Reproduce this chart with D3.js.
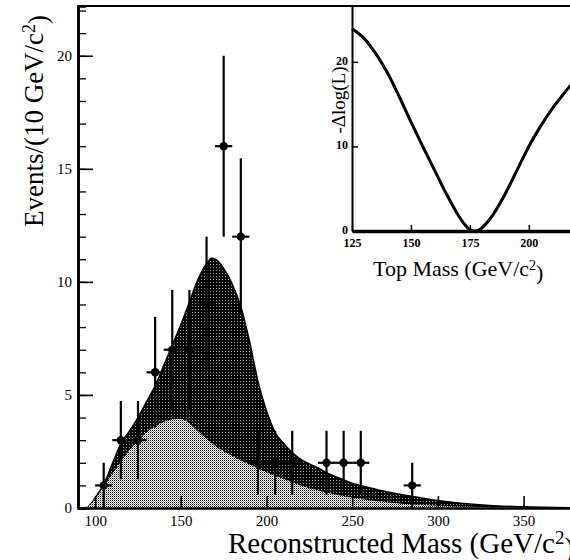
<!DOCTYPE html>
<html>
<head>
<meta charset="utf-8">
<script src="https://cdn.jsdelivr.net/npm/d3@7"></script>
<style>
  body { margin: 0; background: #fff; }
  svg { display: block; font-family: "Liberation Serif", "Times New Roman", serif; }
</style>
</head>
<body>
<svg id="plot" width="570" height="560"></svg>
<script>
// binned data (events per 10 GeV bin)
const binCenters = [105, 115, 125, 135, 145, 155, 165, 175, 185, 195, 205, 215, 235, 245, 255, 285];
const binCounts = [1, 3, 3, 6, 7, 7, 9, 16, 12, 2, 2, 2, 2, 2, 2, 1];

// expected total (signal + background)
const totalMass = [90, 95, 97, 100, 105, 110, 115, 120, 125, 130, 135, 140, 145, 150, 155, 160, 165, 168, 170, 175, 180, 185, 190, 195, 200, 205, 210, 215, 220, 225, 230, 235, 240, 250, 260, 270, 280, 290, 300, 315, 330, 350, 380];
const totalEvents = [0, 0.02, 0.13, 0.45, 1.05, 1.95, 2.85, 3.4, 4.0, 4.7, 5.4, 6.3, 7.2, 8.1, 9.1, 10.1, 10.8, 11.05, 11.0, 10.6, 9.9, 8.9, 7.4, 5.6, 4.3, 3.35, 2.85, 2.45, 2.15, 1.95, 1.78, 1.55, 1.4, 1.1, 0.9, 0.72, 0.58, 0.45, 0.33, 0.2, 0.11, 0.05, 0.01];

// expected background
const bkgMass = [90, 95, 100, 105, 110, 115, 120, 125, 130, 135, 140, 145, 150, 155, 160, 165, 170, 175, 180, 185, 190, 195, 200, 210, 220, 230, 240, 250, 260, 270, 280, 300, 320, 350, 380];
const bkgEvents = [0, 0.05, 0.4, 0.95, 1.5, 2.05, 2.55, 3.0, 3.35, 3.6, 3.8, 3.92, 3.95, 3.75, 3.4, 3.05, 2.75, 2.5, 2.3, 2.1, 1.92, 1.75, 1.58, 1.28, 1.0, 0.78, 0.6, 0.46, 0.34, 0.25, 0.18, 0.1, 0.05, 0.015, 0];

// inset: likelihood scan
const scanMass = [125, 130, 135, 140, 145, 150, 155, 160, 165, 170, 173, 175, 177, 179, 182, 185, 190, 195, 200, 205, 210, 215, 220];
const scanNll = [23.9, 22.8, 21.0, 18.7, 15.9, 12.9, 10.0, 7.2, 4.4, 1.9, 0.7, 0.15, 0, 0.15, 0.9, 2.0, 4.4, 7.2, 10.0, 12.4, 14.5, 16.3, 18.0];

const mainXTicks = [100, 150, 200, 250, 300, 350];
const mainYTicks = [0, 5, 10, 15, 20];
const insetXTicks = [125, 150, 175, 200];
const insetYTicks = [0, 10, 20];

const svg = d3.select("svg#plot");

// halftone-like fills
const defs = svg.append("defs");
const light = defs.append("pattern").attr("id", "lightDots")
  .attr("width", 2).attr("height", 2).attr("patternUnits", "userSpaceOnUse");
light.append("rect").attr("width", 2).attr("height", 2).attr("fill", "#fff");
light.append("rect").attr("width", 1).attr("height", 1).attr("fill", "#000");
light.append("rect").attr("x", 1).attr("y", 1).attr("width", 1).attr("height", 1).attr("fill", "#999");
const dark = defs.append("pattern").attr("id", "darkDots")
  .attr("width", 3).attr("height", 3).attr("patternUnits", "userSpaceOnUse");
dark.append("rect").attr("width", 3).attr("height", 3).attr("fill", "#000");
dark.append("rect").attr("width", 1).attr("height", 1).attr("fill", "#9a9a9a");

// main scales
const x = d3.scaleLinear([90, 380], [78, 575]);
const y = d3.scaleLinear([0, 22.2], [508, 6]);

const total = totalMass.map((m, i) => ({ m: m, v: totalEvents[i] }));
const bkg = bkgMass.map((m, i) => ({ m: m, v: bkgEvents[i] }));

const area = d3.area()
  .x((d) => x(d.m))
  .y0(y(0))
  .y1((d) => y(d.v))
  .curve(d3.curveMonotoneX);
const line = d3.line()
  .x((d) => x(d.m))
  .y((d) => y(d.v))
  .curve(d3.curveMonotoneX);

svg.append("path").datum(total).attr("d", area).attr("fill", "url(#darkDots)");
svg.append("path").datum(total).attr("d", line)
  .attr("fill", "none").attr("stroke", "#000").attr("stroke-width", 1.5);
svg.append("path").datum(bkg).attr("d", area).attr("fill", "url(#lightDots)");

// data points with sqrt(N) errors
const pts = binCenters.map((m, i) => ({ m: m, n: binCounts[i] }));
const points = svg.append("g");
points.selectAll("line.v").data(pts).enter().append("line")
  .attr("x1", (d) => x(d.m)).attr("x2", (d) => x(d.m))
  .attr("y1", (d) => y(Math.max(0, d.n - Math.sqrt(d.n))))
  .attr("y2", (d) => y(d.n + Math.sqrt(d.n)))
  .attr("stroke", "#000").attr("stroke-width", 2.2);
points.selectAll("line.h").data(pts).enter().append("line")
  .attr("x1", (d) => x(d.m - 5)).attr("x2", (d) => x(d.m + 5))
  .attr("y1", (d) => y(d.n)).attr("y2", (d) => y(d.n))
  .attr("stroke", "#000").attr("stroke-width", 2.2);
points.selectAll("circle").data(pts).enter().append("circle")
  .attr("cx", (d) => x(d.m)).attr("cy", (d) => y(d.n))
  .attr("r", 4.2).attr("fill", "#000");

// main axes (ticks point inward)
const yAxisMinor = d3.axisLeft(y).tickValues(d3.range(0, 23)).tickSize(-8).tickFormat("");
const yAxis = d3.axisLeft(y).tickValues(mainYTicks).tickSize(-15).tickSizeOuter(0).tickPadding(6);
const xAxis = d3.axisBottom(x).tickValues(mainXTicks).tickSize(-12).tickSizeOuter(0).tickPadding(4);

const gyMinor = svg.append("g").attr("transform", `translate(${x(90)},0)`).call(yAxisMinor);
const gy = svg.append("g").attr("transform", `translate(${x(90)},0)`).call(yAxis);
const gx = svg.append("g").attr("transform", `translate(0,${y(0)})`).call(xAxis);

[gyMinor, gy, gx].forEach((g) => {
  g.select(".domain").attr("stroke-width", 2.5);
  g.selectAll(".tick line").attr("stroke-width", 1.6);
  g.selectAll("text").attr("font-family", "Liberation Serif, serif").attr("font-size", 15).attr("fill", "#000");
});
gyMinor.selectAll(".tick line").attr("stroke-width", 1.3);
gx.selectAll("text").attr("dy", "0.9em");

// top frame line
svg.append("line")
  .attr("x1", x(90)).attr("x2", 570).attr("y1", y(22.2)).attr("y2", y(22.2))
  .attr("stroke", "#000").attr("stroke-width", 2);

// axis titles
const yTitle = svg.append("text")
  .attr("transform", `translate(43,${121}) rotate(-90)`)
  .attr("text-anchor", "middle").attr("font-size", 27);
yTitle.append("tspan").text("Events/(10 GeV/c");
yTitle.append("tspan").attr("dy", "-0.45em").attr("font-size", 18).text("2");
yTitle.append("tspan").attr("dy", "0.45em").text(")");

const xTitle = svg.append("text")
  .attr("x", 228).attr("y", 553).attr("font-size", 29);
xTitle.append("tspan").text("Reconstructed Mass (GeV/c");
xTitle.append("tspan").attr("dy", "-0.45em").attr("font-size", 19).text("2");
xTitle.append("tspan").attr("dy", "0.45em").text(")");

// ---- inset ----
const ix = d3.scaleLinear([125, 220], [352, 576]);
const iy = d3.scaleLinear([0, 26.6], [231, 6]);
const scan = scanMass.map((m, i) => ({ m: m, v: scanNll[i] }));

svg.append("path").datum(scan)
  .attr("d", d3.line().x((d) => ix(d.m)).y((d) => iy(d.v)).curve(d3.curveCatmullRom.alpha(0.5)))
  .attr("fill", "none").attr("stroke", "#000").attr("stroke-width", 3);

const ixAxis = d3.axisBottom(ix).tickValues(insetXTicks).tickSize(-6).tickSizeOuter(0).tickPadding(4);
const iyAxis = d3.axisLeft(iy).tickValues(insetYTicks).tickSize(-6).tickSizeOuter(0).tickPadding(4);
const gix = svg.append("g").attr("transform", `translate(0,${iy(0)})`).call(ixAxis);
const giy = svg.append("g").attr("transform", `translate(${ix(125)},0)`).call(iyAxis);
gix.select(".domain").attr("stroke-width", 3.5);
giy.select(".domain").attr("stroke-width", 2);
[gix, giy].forEach((g) => {
  g.selectAll(".tick line").attr("stroke-width", 1.5);
  g.selectAll("text").attr("font-family", "Liberation Serif, serif").attr("font-size", 12)
    .attr("font-weight", "bold").attr("fill", "#000");
});
gix.selectAll("text").attr("dy", "1em");
giy.selectAll("text").attr("dy", "0.2em");

const iyTitle = svg.append("text")
  .attr("transform", `translate(345,${100}) rotate(-90)`)
  .attr("text-anchor", "middle").attr("font-size", 19)
  .text("-\u0394log(L)");

const ixTitle = svg.append("text")
  .attr("x", 373).attr("y", 276).attr("font-size", 22);
ixTitle.append("tspan").text("Top Mass (GeV/c");
ixTitle.append("tspan").attr("dy", "-0.45em").attr("font-size", 14).text("2");
ixTitle.append("tspan").attr("dy", "0.45em").text(")");
</script>
</body>
</html>
